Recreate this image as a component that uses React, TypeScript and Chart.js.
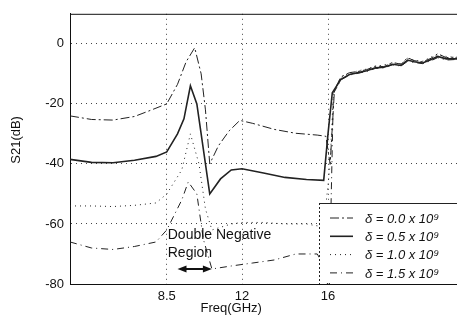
import React, { useEffect, useRef } from "react";
import { Chart, registerables } from "chart.js";

Chart.register(...registerables);

const xTicks = [8.5, 12, 16];
const yTicks = [-80, -60, -40, -20, 0];

const freqA = [4, 5, 6, 7, 7.8, 8.5, 9.0, 9.4, 9.8, 10.1, 10.3, 10.5, 10.9, 11.4, 11.9, 12.5, 13.5, 14.5, 15.5, 15.9, 16.1, 16.3, 16.6, 17.0, 17.4, 17.8, 18.2, 18.6, 19.0, 19.4, 19.7, 20.0, 20.4, 20.8, 21.1, 21.5, 22.0];
const s21A = [-24, -25.2, -25.4, -24.2, -22, -20, -13.5, -6, -1.3, -10, -22, -40, -34, -29, -25.5, -26.5, -28.5, -29.8, -30.4, -30.8, -40, -15.5, -11, -9.6, -9.2, -8.6, -7.4, -7.6, -6.2, -6.8, -4.6, -5.6, -6.0, -4.8, -3.3, -4.6, -4.4];

const freqB = [4, 5, 6, 7, 8, 8.5, 9.0, 9.3, 9.6, 9.9, 10.2, 10.5, 11.0, 11.5, 12, 13, 14, 15, 15.8, 16.0, 16.2, 16.6, 17.0, 17.4, 17.8, 18.2, 18.6, 19.0, 19.4, 19.7, 20.0, 20.4, 20.8, 21.1, 21.5, 22.0];
const s21B = [-38.5, -39.5, -39.6, -38.8, -37.5, -36, -30, -25, -14, -20, -35, -50, -45, -42, -41.6, -43, -44.5, -45.2, -45.5, -30, -16.3, -11.8, -10.2, -9.6, -9.0, -8.0, -7.8, -6.8, -7.2, -5.4, -6.0, -6.4, -5.2, -4.2, -5.0, -5.0];

const freqC = [4, 5, 6, 7, 8, 8.5, 9.2, 9.6, 10.0, 10.3, 10.6, 11.5, 12, 13, 14, 15, 15.8, 16.1, 16.25, 16.6, 17.0, 17.4, 17.8, 18.2, 18.6, 19.0, 19.4, 19.7, 20.0, 20.4, 20.8, 21.1, 21.5, 22.0];
const s21C = [-54, -54, -54.2, -53.8, -53, -50, -42, -30, -40, -55, -62, -60, -59.5, -59.5, -60, -60, -61, -40, -16, -11.2, -9.8, -9.0, -8.4, -7.6, -7.0, -6.4, -6.6, -4.8, -5.4, -5.8, -4.4, -3.6, -4.2, -4.6];

const freqD = [4, 5, 6, 7, 8, 8.5, 9.2, 9.5, 9.9, 10.2, 10.6, 11.5, 12.5, 13.5, 14.5, 15.5, 15.9, 16.05, 16.25, 16.6, 17.0, 17.4, 17.8, 18.2, 18.6, 19.0, 19.4, 19.7, 20.0, 20.4, 20.8, 21.1, 21.5, 22.0];
const s21D = [-66, -68, -68.5, -67.5, -66, -62, -52, -46, -50, -65, -75, -74, -73, -72, -70, -70, -75, -85, -16.6, -12, -10.4, -9.8, -9.2, -8.2, -8.0, -7.0, -7.4, -5.8, -6.2, -6.6, -5.6, -4.6, -5.4, -5.2];

const seriesLabels = ["\u03b4 = 0.0 x 10\u2079", "\u03b4 = 0.5 x 10\u2079", "\u03b4 = 1.0 x 10\u2079", "\u03b4 = 1.5 x 10\u2079"];
const seriesDash = [[9, 3, 2, 3], [], [1, 4], [7, 4, 1, 4]];
const seriesWidth = [1, 1.6, 1, 1];

const xTitle = "Freq(GHz)";
const yTitle = "S21(dB)";
const regionLine1 = "Double Negative";
const regionLine2 = "Region";

const FONT = "'Liberation Sans', Arial, sans-serif";

function pts(xs: number[], ys: number[]) {
  return xs.map((x, i) => ({ x, y: ys[i] }));
}

const decorPlugin = {
  id: "decor",
  afterDraw(chart: any) {
    const { ctx, chartArea, scales } = chart;
    const xs = scales.x;
    const ys = scales.y;
    ctx.save();
    // top frame line
    ctx.strokeStyle = "#111";
    ctx.lineWidth = 1;
    ctx.beginPath();
    ctx.moveTo(chartArea.left, chartArea.top + 0.5);
    ctx.lineTo(chartArea.right, chartArea.top + 0.5);
    ctx.stroke();

    // axis titles
    ctx.fillStyle = "#111";
    ctx.font = `13px ${FONT}`;
    ctx.textAlign = "center";
    ctx.textBaseline = "middle";
    ctx.fillText(xTitle, xs.getPixelForValue(11.5), chartArea.bottom + 24);
    ctx.save();
    ctx.translate(16, ys.getPixelForValue(-32));
    ctx.rotate(-Math.PI / 2);
    ctx.fillText(yTitle, 0, 0);
    ctx.restore();

    // region annotation
    ctx.font = `14px ${FONT}`;
    ctx.textAlign = "left";
    const tx = xs.getPixelForValue(8.5) + 1;
    ctx.fillText(regionLine1, tx, ys.getPixelForValue(-63.6));
    ctx.fillText(regionLine2, tx, ys.getPixelForValue(-69.8));
    const ay = ys.getPixelForValue(-75);
    const ax1 = xs.getPixelForValue(9.0);
    const ax2 = xs.getPixelForValue(10.6);
    ctx.lineWidth = 2;
    ctx.beginPath();
    ctx.moveTo(ax1 + 4, ay);
    ctx.lineTo(ax2 - 4, ay);
    ctx.stroke();
    ctx.beginPath();
    ctx.moveTo(ax1, ay);
    ctx.lineTo(ax1 + 9, ay - 3.5);
    ctx.lineTo(ax1 + 9, ay + 3.5);
    ctx.closePath();
    ctx.moveTo(ax2, ay);
    ctx.lineTo(ax2 - 9, ay - 3.5);
    ctx.lineTo(ax2 - 9, ay + 3.5);
    ctx.closePath();
    ctx.fill();

    // legend box
    const lx = chartArea.right - 138;
    const ly = chartArea.bottom - 81;
    ctx.fillStyle = "#fff";
    ctx.fillRect(lx, ly, chartArea.right - lx, chartArea.bottom - ly - 1);
    ctx.strokeStyle = "#222";
    ctx.lineWidth = 1;
    ctx.beginPath();
    ctx.moveTo(lx, ly + 0.5);
    ctx.lineTo(chartArea.right, ly + 0.5);
    ctx.stroke();
    ctx.setLineDash([2, 2]);
    ctx.beginPath();
    ctx.moveTo(lx + 0.5, ly);
    ctx.lineTo(lx + 0.5, chartArea.bottom);
    ctx.stroke();
    ctx.setLineDash([]);
    ctx.fillStyle = "#111";
    ctx.font = `italic 13px ${FONT}`;
    ctx.textAlign = "left";
    ctx.textBaseline = "middle";
    seriesLabels.forEach((lab, i) => {
      const ry = ly + 15 + i * 18.3;
      ctx.strokeStyle = "#222";
      ctx.lineWidth = seriesWidth[i];
      ctx.setLineDash(seriesDash[i]);
      ctx.beginPath();
      ctx.moveTo(lx + 11, ry);
      ctx.lineTo(lx + 34, ry);
      ctx.stroke();
      ctx.setLineDash([]);
      ctx.fillText(lab, lx + 46, ry + 1);
    });
    ctx.restore();
  },
};

export default function App() {
  const ref = useRef<HTMLCanvasElement | null>(null);
  useEffect(() => {
    if (!ref.current) return;
    const all = [
      [freqA, s21A],
      [freqB, s21B],
      [freqC, s21C],
      [freqD, s21D],
    ];
    const chart = new Chart(ref.current, {
      type: "line",
      data: {
        datasets: all.map(([xs, ys], i) => ({
          label: seriesLabels[i],
          data: pts(xs as number[], ys as number[]),
          borderColor: "#222",
          borderWidth: seriesWidth[i],
          borderDash: seriesDash[i],
          pointRadius: 0,
          fill: false,
          tension: 0,
        })),
      },
      options: {
        animation: false,
        responsive: false,
        devicePixelRatio: 1,
        layout: { padding: { top: 7, right: 0, left: 0, bottom: 0 } },
        plugins: { legend: { display: false }, tooltip: { enabled: false } },
        scales: {
          x: {
            type: "linear",
            min: 4,
            max: 22,
            afterBuildTicks: (s: any) => {
              s.ticks = xTicks.map((v) => ({ value: v }));
            },
            afterFit: (s: any) => {
              s.height = 38;
            },
            ticks: {
              color: "#111",
              font: { family: FONT, size: 13 },
              padding: 5,
              maxRotation: 0,
              callback: (v: any) => String(v),
            },
            grid: { color: "#444", lineWidth: 1, drawTicks: false },
            border: { display: true, color: "#111", width: 1, dash: [1, 4] },
          },
          y: {
            type: "linear",
            min: -80,
            max: 10,
            afterBuildTicks: (s: any) => {
              s.ticks = yTicks.map((v) => ({ value: v }));
            },
            afterFit: (s: any) => {
              s.width = 70;
            },
            ticks: {
              color: "#111",
              font: { family: FONT, size: 13 },
              padding: 6,
              callback: (v: any) => String(v),
            },
            grid: { color: "#444", lineWidth: 1, drawTicks: false },
            border: { display: true, color: "#111", width: 1, dash: [1, 4] },
          },
        },
      },
      plugins: [decorPlugin],
    });
    return () => chart.destroy();
  }, []);
  return (
    <div style={{ position: "fixed", left: 0, top: 0, width: 457, height: 322, background: "#fff" }}>
      <canvas ref={ref} width={457} height={322} style={{ width: 457, height: 322 }} />
    </div>
  );
}
